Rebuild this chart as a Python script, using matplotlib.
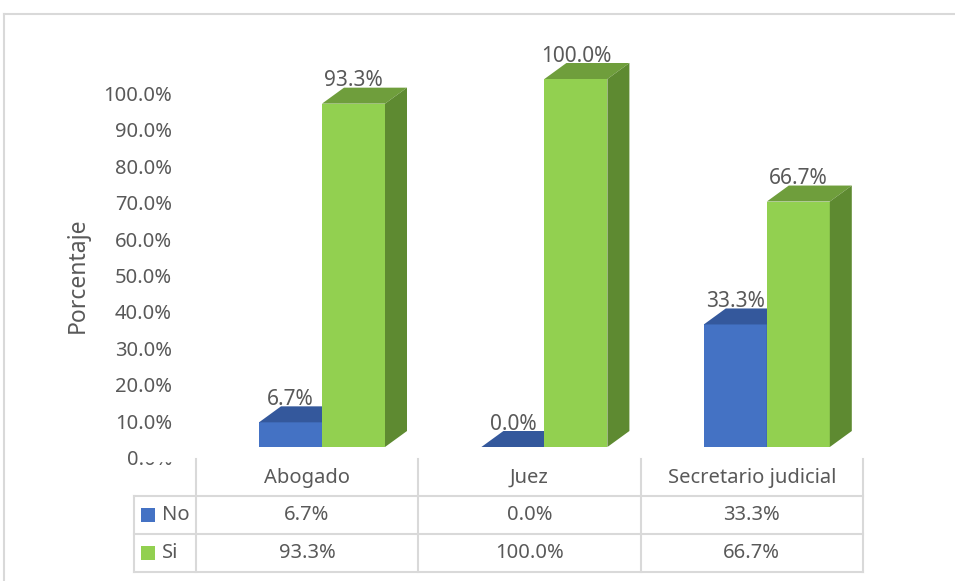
import numpy as np
import matplotlib.pyplot as plt
from matplotlib.patches import Polygon, Rectangle

categories = ['Abogado', 'Juez', 'Secretario judicial']
series = ['No', 'Si']
no_vals = [6.7, 0.0, 33.3]
si_vals = [93.3, 100.0, 66.7]
yticks = np.arange(0, 101, 10)

plt.rcParams['font.family'] = ['Noto Sans', 'DejaVu Sans']
TXT = '#595959'
GRID = '#d9d9d9'
FS = 14.5

# front face / top face / side face colours per series
colors = {
    'No': ('#4472C4', '#34589C', '#2B4A84'),
    'Si': ('#92D050', '#6F9E3C', '#5E8A31'),
}

# pixel scale of the chart: one category and one percent
SX, SY = 222.4, 3.68
X0, Y0 = 322, 447
W = 63 / SX           # bar width in category units
DX, DY = 22 / SX, 16 / SY   # depth offset of the 3d box


def px(x, y):
    return (x - X0) / SX, (Y0 - y) / SY


fig = plt.figure(figsize=(9.55, 5.81), dpi=100)
ax = fig.add_axes([0, 0, 1, 1])
ax.set_xlim(px(0, 0)[0], px(955, 0)[0])
ax.set_ylim(px(0, 581)[1], px(0, 0)[1])
ax.axis('off')


def box3d(x0, v, c):
    front, top, side = c
    ax.bar(x0, v, width=W, align='edge', color=front, linewidth=0, zorder=2)
    ax.add_patch(Polygon([(x0, v), (x0 + W, v), (x0 + W + DX, v + DY), (x0 + DX, v + DY)],
                         closed=True, color=top, linewidth=0, zorder=2))
    ax.add_patch(Polygon([(x0 + W, 0), (x0 + W, v), (x0 + W + DX, v + DY), (x0 + W + DX, DY)],
                         closed=True, color=side, linewidth=0, zorder=2))
    ax.text(x0 + W / 2, v + DY + 7 / SY, f'{v:.1f}%', ha='center', va='center',
            color=TXT, fontsize=FS + 0.5, zorder=4)


for i in range(len(categories)):
    box3d(i - W, no_vals[i], colors['No'])
    box3d(i, si_vals[i], colors['Si'])

# value axis labels
for t in yticks:
    x, y = px(172, 460 - 3.64 * t)
    ax.text(x, y, f'{t:.1f}%', ha='right', va='center', color=TXT, fontsize=FS, zorder=3)
# the table top hides part of the lowest tick label
bx, by = px(138, 461)
ax.add_patch(Rectangle((bx, by), 38 / SX, 13 / SY, color='white', zorder=3.5))

x, y = px(78, 275)
ax.text(x, y, 'Porcentaje', rotation=90, ha='center', va='center', color=TXT, fontsize=16.5)

# data table under the chart
off = (307 - X0) / SX
col_edges = [i - 0.5 + off for i in range(len(categories) + 1)]
rows_y = [px(0, yy)[1] for yy in (459, 496, 534, 572)]
left = px(134, 0)[0]

for xe in col_edges:
    ax.plot([xe, xe], [rows_y[0], rows_y[3]], color=GRID, lw=1.5, zorder=1)
ax.plot([left, left], [rows_y[1], rows_y[3]], color=GRID, lw=1.5, zorder=1)
for ye in rows_y[1:]:
    ax.plot([left, col_edges[-1]], [ye, ye], color=GRID, lw=1.5, zorder=1)

for i, cat in enumerate(categories):
    cx = i + off
    ax.text(cx, (rows_y[0] + rows_y[1]) / 2, cat, ha='center', va='center', color=TXT, fontsize=FS)
    ax.text(cx, (rows_y[1] + rows_y[2]) / 2, f'{no_vals[i]:.1f}%', ha='center', va='center',
            color=TXT, fontsize=FS)
    ax.text(cx, (rows_y[2] + rows_y[3]) / 2, f'{si_vals[i]:.1f}%', ha='center', va='center',
            color=TXT, fontsize=FS)

# legend keys in the first table column
for k, name in enumerate(series):
    yc = (rows_y[k + 1] + rows_y[k + 2]) / 2
    kx = px(141, 0)[0]
    ax.add_patch(Rectangle((kx, yc - 7 / SY), 14 / SX, 14 / SY, color=colors[name][0], linewidth=0))
    ax.text(px(162, 0)[0], yc, name, ha='left', va='center', color=TXT, fontsize=FS)

# chart area border
fx, fy = px(4, 14)
ax.plot([fx, px(955, 0)[0]], [fy, fy], color=GRID, lw=1.5)
ax.plot([fx, fx], [fy, px(0, 581)[1]], color=GRID, lw=1.5)

fig.savefig('out.png', dpi=100)
